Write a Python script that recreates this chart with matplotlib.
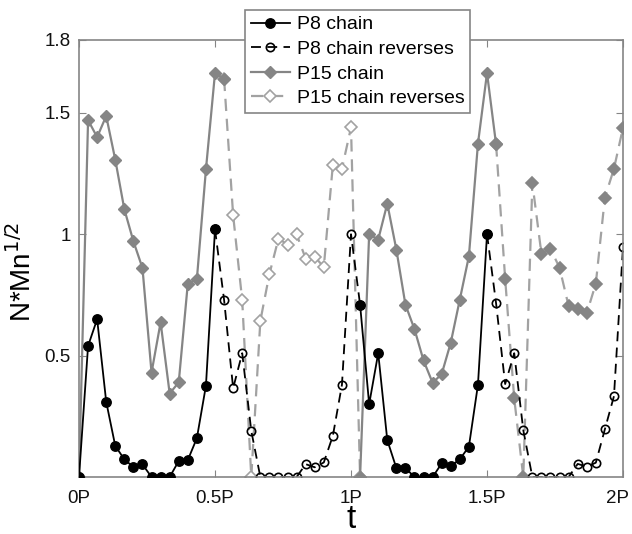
import numpy as np
import matplotlib
matplotlib.use("Agg")
import matplotlib.pyplot as plt
import matplotlib.transforms as mtransforms

plt.rcParams['font.family'] = ['Liberation Sans', 'DejaVu Sans']

# time grid in units of the period P (sampling step P/30)
step = 1.0 / 30.0

# ---- data ----
p8_chain_1 = [0, 0.54, 0.65, 0.31, 0.128, 0.073, 0.041, 0.052, 0, 0, 0,
              0.066, 0.07, 0.16, 0.376, 1.02]                      # idx 0..15
p8_rev_1 = [1.02, 0.73, 0.366, 0.51, 0.19, 0, 0, 0, 0, 0, 0.053, 0.04,
            0.06, 0.17, 0.38, 1.0, 0.71]                            # idx 15..31
p8_chain_2 = [0.71, 0.30, 0.51, 0.152, 0.037, 0.037, 0, 0, 0, 0.056,
              0.045, 0.073, 0.125, 0.38, 1.0]                       # idx 31..45
p8_rev_2 = [1.0, 0.715, 0.383, 0.51, 0.193, 0, 0, 0, 0, 0, 0.054, 0.043,
            0.059, 0.197, 0.333, 0.948]                             # idx 45..60

p15_chain_1 = [0, 1.47, 1.40, 1.487, 1.307, 1.103, 0.971, 0.861, 0.43,
               0.637, 0.344, 0.39, 0.797, 0.815, 1.267, 1.664, 1.64]  # idx 0..16
p15_rev_1 = [1.64, 1.078, 0.728, 0, 0.643, 0.836, 0.982, 0.957, 0.999,
             0.90, 0.907, 0.865, 1.287, 1.27, 1.44, 0]             # idx 16..31
p15_chain_2 = [0, 1.0, 0.978, 1.126, 0.937, 0.71, 0.609, 0.48, 0.388,
               0.424, 0.553, 0.731, 0.909, 1.373, 1.664, 1.37]     # idx 31..46
p15_rev_2 = [1.37, 0.817, 0.324, 0, 1.21, 0.92, 0.94, 0.862, 0.704, 0.69,
             0.674, 0.797, 1.151, 1.27, 1.439]                      # idx 46..60

seg_start = {
    'p8_chain_1': 0, 'p8_rev_1': 15, 'p8_chain_2': 31, 'p8_rev_2': 45,
    'p15_chain_1': 0, 'p15_rev_1': 16, 'p15_chain_2': 31, 'p15_rev_2': 46,
}

x_ticks = [0, 0.5, 1, 1.5, 2]
x_ticklabels = ['0P', '0.5P', '1P', '1.5P', '2P']
y_ticks = [0.5, 1, 1.5, 1.8]
y_ticklabels = ['0.5', '1', '1.5', '1.8']
labels = ['P8 chain', 'P8 chain reverses', 'P15 chain', 'P15 chain reverses']


def tt(vals, start):
    return (start + np.arange(len(vals))) * step


fig = plt.figure(figsize=(6.32, 5.34), dpi=100)
ax = fig.add_axes([0.125, 0.1067, 0.8608, 0.8184])

GRAY = '#858585'
LGRAY = '#a2a2a2'

st_p8c = dict(color='black', lw=1.3, ls='-', marker='o', ms=6.8,
              mfc='black', mec='black')
st_p8r = dict(color='black', lw=1.3, ls=(0, (5.5, 3.5)), marker='o', ms=6.0,
              mfc='none', mec='black', mew=1.2)
st_p15c = dict(color=GRAY, lw=1.6, ls='-', marker='D', ms=6.3,
               mfc=GRAY, mec=GRAY)
st_p15r = dict(color=LGRAY, lw=1.6, ls=(0, (5.5, 3.5)), marker='D', ms=6.3,
               mfc='white', mec=LGRAY, mew=1.2)

h1, = ax.plot(tt(p8_chain_1, seg_start['p8_chain_1']), p8_chain_1, **st_p8c, zorder=3)
ax.plot(tt(p8_chain_2, seg_start['p8_chain_2']), p8_chain_2, **st_p8c, zorder=3)
h2, = ax.plot(tt(p8_rev_1, seg_start['p8_rev_1']), p8_rev_1, **st_p8r, zorder=2)
ax.plot(tt(p8_rev_2, seg_start['p8_rev_2']), p8_rev_2, **st_p8r, zorder=2)
h3, = ax.plot(tt(p15_chain_1, seg_start['p15_chain_1']), p15_chain_1, **st_p15c, zorder=2.5)
ax.plot(tt(p15_chain_2, seg_start['p15_chain_2']), p15_chain_2, **st_p15c, zorder=2.5)
h4, = ax.plot(tt(p15_rev_1, seg_start['p15_rev_1']), p15_rev_1, **st_p15r, zorder=1.5)
st2 = dict(st_p15r)
st2.update(mfc=GRAY, mec=GRAY)
ax.plot(tt(p15_rev_2, seg_start['p15_rev_2']), p15_rev_2, **st2, zorder=1.5)

ax.set_xlim(0, 2)
ax.set_ylim(0, 1.8)
ax.set_xticks(x_ticks)
ax.set_xticklabels(x_ticklabels)
ax.set_yticks(y_ticks)
ax.set_yticklabels(y_ticklabels)
ax.tick_params(direction='in', length=5, width=0.8, color=GRAY,
               top=True, right=True, labelsize=13.5, labelcolor='#111111')
ax.tick_params(axis='x', pad=9)
ax.tick_params(axis='y', pad=6)
for s in ax.spines.values():
    s.set_color(GRAY)
    s.set_linewidth(1.2)

# keep the last x tick label inside the figure, as in the reference
last = ax.get_xticklabels()[-1]
last.set_transform(last.get_transform() +
                   mtransforms.ScaledTranslation(-6 / 100, 0, fig.dpi_scale_trans))

ax.set_xlabel('t', fontsize=24, labelpad=-2)
ax.set_ylabel('N*Mn$^{1/2}$', fontsize=20)
ax.yaxis.set_label_coords(-0.078, 0.47)

leg = fig.legend([h1, h2, h3, h4], labels, loc='upper left',
                 bbox_to_anchor=(245 / 632, 1 - 10 / 534), borderaxespad=0,
                 fontsize=14, fancybox=False, framealpha=1, edgecolor=GRAY,
                 handlelength=2.0, handletextpad=0.35, labelspacing=0.36,
                 borderpad=0.3)
leg.get_frame().set_linewidth(1.2)

fig.savefig('out.png', dpi=100)
